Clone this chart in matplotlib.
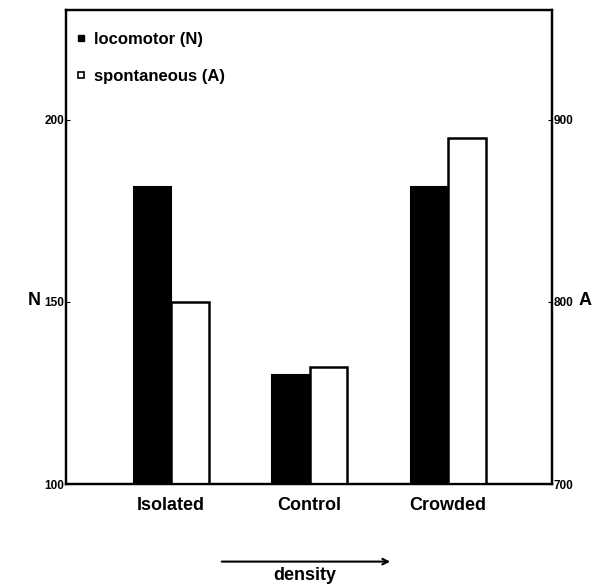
import numpy as np
import matplotlib
matplotlib.use('Agg')
from matplotlib import pyplot as plt
from matplotlib.lines import Line2D

plt.rcParams['font.family'] = ['Liberation Sans', 'DejaVu Sans']
plt.rcParams['font.weight'] = 'bold'

# data
categories = ['Isolated', 'Control', 'Crowded']
locomotor_N = [181.5, 130, 181.5]       # left axis
spontaneous_A = [800, 764, 890]         # right axis
n_ticks = [100, 150, 200]
a_ticks = [700, 800, 900]

fig = plt.figure(figsize=(6, 5.85), dpi=100)
ax = fig.add_axes([0.11, 0.1726, 0.81, 0.81])
ax2 = ax.twinx()

x = np.arange(len(categories))
w = 0.27
ax.bar(x - w / 2, locomotor_N, w, color='black', edgecolor='black', linewidth=1.5)
ax2.bar(x + w / 2, spontaneous_A, w, color='white', edgecolor='black', linewidth=1.8)

ax.set_xlim(-0.76, 2.75)
ax.set_ylim(100, 230)
ax2.set_ylim(700, 960)
ax.set_yticks(n_ticks)
ax2.set_yticks(a_ticks)
ax.set_xticks(x)
ax.set_xticklabels(categories, fontsize=13, fontweight='bold')
ax.tick_params(axis='x', length=0, pad=9)
ax.tick_params(axis='y', direction='in', length=3, labelsize=8.5, pad=1)
ax2.tick_params(axis='y', direction='in', length=3, labelsize=8.5, pad=1)
for a in (ax, ax2):
    for s in a.spines.values():
        s.set_linewidth(1.6)

fig.text(0.057, 0.487, 'N', fontsize=13, fontweight='bold', ha='center', va='center')
fig.text(0.975, 0.487, 'A', fontsize=13, fontweight='bold', ha='center', va='center')

# legend drawn as markers + text
handles = [Line2D([], [], marker='s', ls='', color='black', markersize=4),
           Line2D([], [], marker='s', ls='', markerfacecolor='white',
                  markeredgecolor='black', markersize=4, markeredgewidth=1.2)]
ax2.legend(handles, ['locomotor (N)', 'spontaneous (A)'], loc='upper left',
           frameon=False, fontsize=12, handlelength=0.6, handletextpad=0.5,
           labelspacing=1.3, borderaxespad=0.2, bbox_to_anchor=(0.0, 0.975))

# density arrow
ax.annotate('', xy=(0.655, 0.04), xytext=(0.365, 0.04),
            xycoords='figure fraction', textcoords='figure fraction',
            annotation_clip=False,
            arrowprops=dict(arrowstyle='->', lw=1.5, color='black'))
fig.text(0.508, 0.017, 'density', fontsize=13, fontweight='bold', ha='center', va='center')

plt.savefig('out.png', dpi=100)
